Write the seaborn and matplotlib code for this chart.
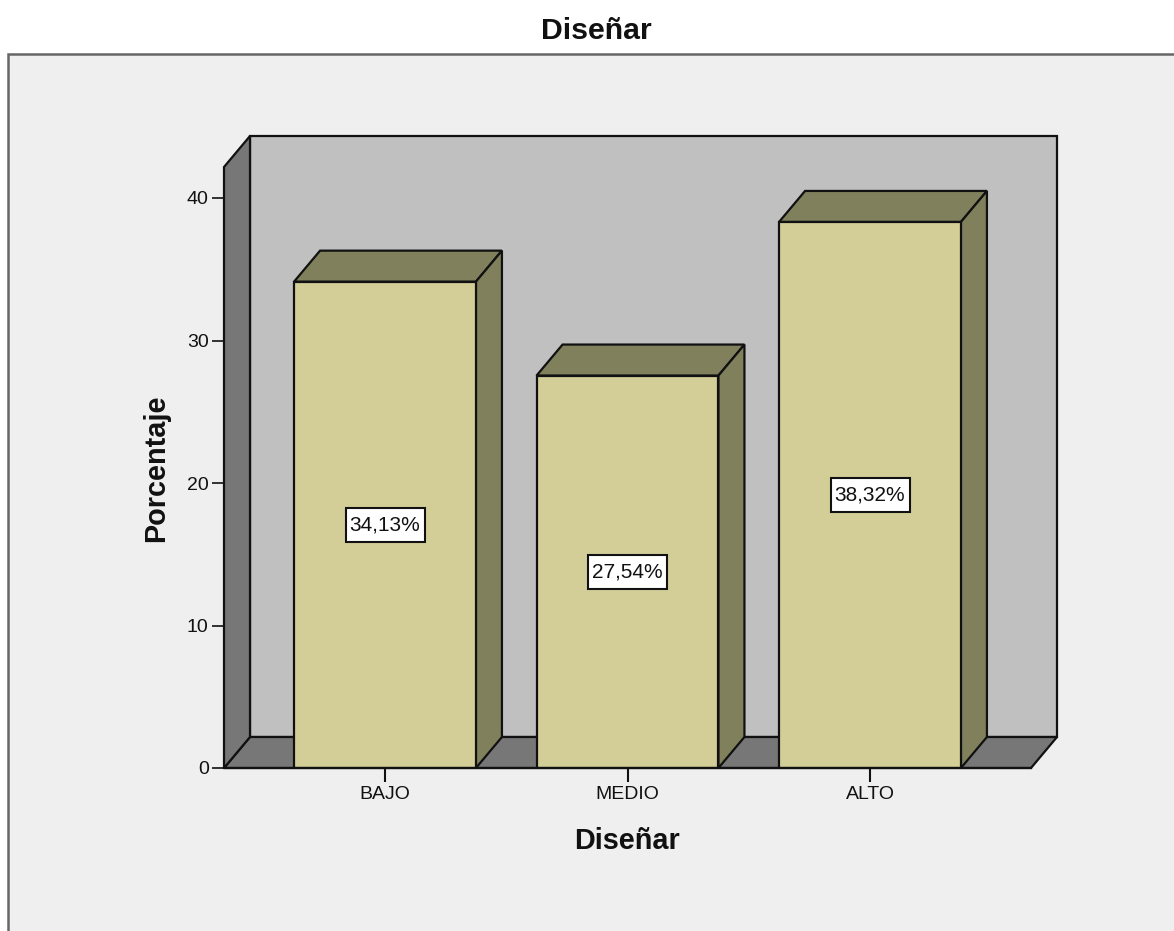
import matplotlib
matplotlib.use("Agg")
import matplotlib.pyplot as plt
from matplotlib.patches import Polygon, Rectangle
import pandas as pd
import seaborn as sns

categories = ["BAJO", "MEDIO", "ALTO"]
percentages = [34.13, 27.54, 38.32]
y_ticks = [0, 10, 20, 30, 40]

W, H = 1174, 931
FRONT = "#d3ce97"
SHADE = "#81805c"
WALL = "#c0c0c0"
FLOOR = "#777777"
PANEL = "#efefef"
INK = "#111111"

sns.set_theme(style="white")
plt.rcParams["font.family"] = ["Liberation Sans", "DejaVu Sans"]

fig = plt.figure(figsize=(W / 100, H / 100), dpi=100, facecolor="white")

# Grey chart panel, running off the right and bottom edges of the figure
fig.add_artist(Rectangle((8 / W, -0.05), 1.0, (H - 54) / H + 0.05, transform=fig.transFigure,
                         fc=PANEL, ec="#666666", lw=1.8, zorder=-5))

# Axes cover the front plane of the 3D box
left, right, top, bottom = 224, 1031, 167, 768
ax = fig.add_axes([left / W, (H - bottom) / H, (right - left) / W, (bottom - top) / H])
ax.patch.set_alpha(0)

px_per_pct = 14.25
px_per_cat = 242.5
x_lo = -(385 - left) / px_per_cat
x_hi = x_lo + (right - left) / px_per_cat
y_hi = (bottom - top) / px_per_pct
dx = 26 / px_per_cat   # depth offset in category units
dy = 31 / px_per_pct   # depth offset in percent units

frame = pd.DataFrame({"nivel": categories, "porcentaje": percentages})
sns.barplot(data=frame, x="nivel", y="porcentaje", order=categories, width=0.75,
            color=FRONT, saturation=1, edgecolor=INK, linewidth=1.6, ax=ax, zorder=5)
ax.set_xlim(x_lo, x_hi)
ax.set_ylim(0, y_hi)


def face(points, color, z):
    ax.add_patch(Polygon(points, closed=True, fc=color, ec=INK, lw=1.6,
                         joinstyle="miter", clip_on=False, zorder=z))


# Box: back wall, floor and left wall
face([(x_lo + dx, dy), (x_hi + dx, dy), (x_hi + dx, y_hi + dy), (x_lo + dx, y_hi + dy)], WALL, 1)
face([(x_lo, 0), (x_hi, 0), (x_hi + dx, dy), (x_lo + dx, dy)], FLOOR, 2)
face([(x_lo, 0), (x_lo + dx, dy), (x_lo + dx, y_hi + dy), (x_lo, y_hi)], FLOOR, 2)

# Top and side faces of each bar, plus its value label
half = 0.75 / 2
box_w = 79 / px_per_cat
box_h = 34 / px_per_pct
for i, value in enumerate(percentages):
    x0, x1 = i - half, i + half
    face([(x0, value), (x1, value), (x1 + dx, value + dy), (x0 + dx, value + dy)], SHADE, 4)
    face([(x1, 0), (x1 + dx, dy), (x1 + dx, value + dy), (x1, value)], SHADE, 4)
    ax.add_patch(Rectangle((i - box_w / 2, value / 2 - box_h / 2), box_w, box_h,
                           fc="white", ec=INK, lw=1.5, zorder=6))
    ax.text(i, value / 2, f"{value:.2f}%".replace(".", ","), ha="center", va="center",
            fontsize=15, color=INK, zorder=7)

ax.set_xticks(range(len(categories)), categories)
ax.set_yticks(y_ticks)
ax.tick_params(axis="x", length=10, width=1.5, color=INK, labelsize=14,
               labelcolor=INK, pad=3, bottom=True)
ax.tick_params(axis="y", length=9, width=1.2, color=INK, labelsize=14,
               labelcolor=INK, pad=2, left=True)
for name in ("top", "right", "left"):
    ax.spines[name].set_visible(False)
ax.spines["bottom"].set_color(INK)
ax.spines["bottom"].set_linewidth(1.6)
ax.spines["bottom"].set_zorder(8)
ax.set_xlabel("")
ax.set_ylabel("")

# Titles are placed in figure pixels
fig.text(596 / W, 1 - 31 / H, "Diseñar", ha="center", va="center",
         fontsize=21.8, fontweight="bold", color=INK)
fig.text(627 / W, 1 - 841 / H, "Diseñar", ha="center", va="center",
         fontsize=20.8, fontweight="bold", color=INK)
fig.text(156 / W, 1 - 468 / H, "Porcentaje", ha="center", va="center", rotation=90,
         fontsize=20.8, fontweight="bold", color=INK)

fig.savefig("out.png", dpi=100)
